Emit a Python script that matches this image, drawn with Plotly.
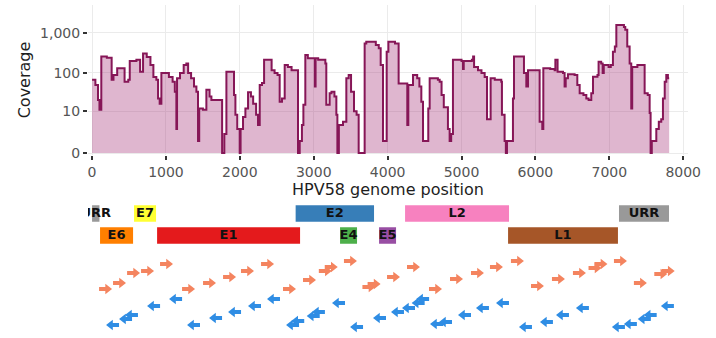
import numpy as np
import plotly.graph_objects as go

# ---------------- data ----------------
# coverage step profile along the HPV58 genome (position where a step starts, coverage)
cov_pos = [0, 45, 80, 100, 125, 200, 265, 290, 340, 440, 490, 510, 600, 650, 690, 740, 790, 830, 870,
           893, 915, 938, 990, 1040, 1090, 1120, 1141, 1150, 1190, 1240, 1276, 1300, 1340, 1380, 1412,
           1434, 1450, 1500, 1547, 1590, 1615, 1760, 1790, 1818, 1921, 1940, 1965, 1998, 2010, 2043,
           2075, 2111, 2150, 2180, 2220, 2246, 2269, 2300, 2328, 2430, 2470, 2510, 2539, 2570, 2607,
           2650, 2700, 2787, 2810, 2840, 2860, 2886, 2920, 3015, 3025, 3060, 3157, 3170, 3215, 3240,
           3280, 3306, 3320, 3340, 3396, 3441, 3473, 3505, 3545, 3580, 3608, 3689, 3711, 3840, 3880,
           3906, 3937, 3987, 4010, 4100, 4149, 4266, 4280, 4343, 4400, 4430, 4456, 4479, 4550, 4569,
           4680, 4704, 4730, 4760, 4816, 4839, 4860, 4884, 5000, 5020, 5030, 5140, 5157, 5170, 5223,
           5270, 5313, 5345, 5394, 5450, 5538, 5547, 5583, 5600, 5615, 5696, 5710, 5845, 5877, 5900,
           6035, 6057, 6093, 6107, 6200, 6260, 6270, 6300, 6373, 6395, 6410, 6440, 6530, 6567, 6599,
           6650, 6689, 6720, 6756, 6779, 6840, 6855, 6890, 6910, 6925, 6990, 7020, 7049, 7075, 7095,
           7198, 7216, 7243, 7275, 7297, 7310, 7380, 7455, 7478, 7520, 7546, 7559, 7575, 7636, 7670,
           7703, 7726, 7750, 7771, 7793, 7810]
cov_val = [67, 49, 20, 11, 256, 239, 67, 88, 131, 59, 67, 199, 213, 106, 308, 250, 157, 78, 67,
           22, 16, 99, 99, 78, 59, 33, 3, 73, 99, 157, 173, 99, 73, 45, 33,
           1, 12, 11, 37, 25, 20, 0, 2, 106, 27, 8, 3, 0, 3, 7,
           12, 32, 25, 16, 8, 4, 49, 55, 213, 116, 99, 88, 18, 22, 157,
           140, 116, 0, 1, 4, 15, 281, 233, 45, 233, 213, 173, 15, 30, 33,
           25, 8, 0, 4, 5, 73, 88, 33, 10, 8, 0, 549, 602, 500, 416,
           157, 1, 338, 602, 549, 54, 4, 49, 88, 73, 45, 18, 1, 12, 73,
           67, 59, 27, 13, 3, 1, 2, 213, 199, 125, 199, 213, 256, 140, 116,
           99, 78, 6, 73, 67, 59, 8, 1, 0, 1, 22, 256, 99, 45, 116,
           116, 5, 3, 131, 125, 116, 213, 106, 99, 45, 73, 92, 88, 49, 30,
           27, 22, 20, 30, 80, 88, 189, 173, 99, 157, 140, 157, 338, 456, 1584,
           1412, 1201, 456, 173, 12, 140, 157, 157, 30, 27, 9, 0, 1, 3, 5,
           6, 22, 59, 88, 73, 73]

# tick labels of the coverage axis
cov_ticks = [0, 10, 100, 1000]
cov_tick_text = ["0", "10", "100", "1,000"]
x_ticks = [0, 1000, 2000, 3000, 4000, 5000, 6000, 7000, 8000]

# genome annotation
gene_names = ["URR", "E7", "E2", "L2", "URR", "E6", "E1", "E4", "E5", "L1"]
gene_start = [0, 568, 2755, 4236, 7131, 108, 880, 3356, 3884, 5630]
gene_end = [100, 866, 3816, 5643, 7808, 555, 2815, 3586, 4114, 7117]
gene_row = [1, 1, 1, 1, 1, 2, 2, 2, 2, 2]
gene_colors = ["#999999", "#ffff33", "#377eb8", "#f781bf", "#999999",
               "#ff7f00", "#e41a1c", "#4daf4a", "#984ea3", "#a65628"]

# forward reads (centre position, stacking height in the read track)
fwd_pos = [176, 365, 555, 744, 1001, 1299, 1583, 1854, 2097, 2368, 2665, 2936, 3150, 3230, 3490,
           3740, 3810, 4073, 4343, 4641, 4925, 5209, 5466, 5750, 6021, 6305, 6589, 6800, 6880,
           7144, 7414, 7690, 7790]
fwd_lane = [49, 55, 65, 67, 74, 49, 55, 61, 67, 74, 49, 58, 67, 71, 77,
            51, 54, 61, 71, 49, 59, 65, 71, 77, 52, 59, 65, 70, 74,
            77, 55, 64, 67]
# reverse reads
rev_pos = [284, 460, 540, 839, 1137, 1380, 1678, 1935, 2205, 2462, 2720, 2790, 3000, 3070, 3342,
           3586, 3897, 4140, 4289, 4420, 4480, 4668, 4790, 5047, 5290, 5561, 5872, 6156, 6373,
           6643, 7130, 7292, 7480, 7560, 7793]
rev_lane = [13, 19, 23, 32, 39, 13, 20, 26, 32, 39, 13, 17, 22, 26, 35,
            11, 20, 26, 30, 35, 39, 14, 16, 23, 30, 35, 11, 16, 23,
            30, 11, 14, 19, 23, 32]

# ---------------- styling / layout constants ----------------
W, H = 716, 338
BP_PER_PX = 13.53
X_RANGE = [-55, 8065]
ROW_Y = {1: 124.5, 2: 102.5}
LINE_COL = "#861657"
FILL_COL = "rgba(172,62,128,0.38)"
FWD_COL = "#f4845f"
REV_COL = "#2f8de4"

fig = go.Figure()

# coverage (pseudo-log scale: log10(x + 1))
ylog = np.log10(np.array(cov_val, dtype=float) + 1)
fig.add_trace(go.Scatter(
    x=cov_pos, y=ylog, mode="lines", line=dict(shape="hv", color=LINE_COL, width=2),
    fill="tozeroy", fillcolor=FILL_COL, hoverinfo="skip", xaxis="x", yaxis="y"))

# genes as horizontal bars
for r in (1, 2):
    idx = [i for i, g in enumerate(gene_row) if g == r]
    fig.add_trace(go.Bar(
        orientation="h",
        base=[gene_start[i] for i in idx],
        x=[gene_end[i] - gene_start[i] for i in idx],
        y=[ROW_Y[r]] * len(idx),
        width=16.5,
        marker=dict(color=[gene_colors[i] for i in idx], line=dict(width=0)),
        xaxis="x2", yaxis="y2", hoverinfo="skip"))

fig.add_trace(go.Scatter(
    x=[(s + e) / 2 for s, e in zip(gene_start, gene_end)],
    y=[ROW_Y[r] for r in gene_row],
    mode="text", text=gene_names, cliponaxis=True,
    textfont=dict(family="DejaVu Sans", size=13, color="#111111", weight="bold"),
    xaxis="x2", yaxis="y2", hoverinfo="skip"))


def arrows(pos, lane, color, direction):
    back, front, head = 6.0 * BP_PER_PX, 1.0 * BP_PER_PX, 2.5 * BP_PER_PX
    sx, sy, hx = [], [], []
    for p, l in zip(pos, lane):
        if direction > 0:
            sx += [p - back, p + front, None]
            hx.append(p + head)
        else:
            sx += [p + back, p - front, None]
            hx.append(p - head)
        sy += [l, l, None]
    fig.add_trace(go.Scatter(x=sx, y=sy, mode="lines", line=dict(color=color, width=4),
                             xaxis="x2", yaxis="y2", hoverinfo="skip"))
    fig.add_trace(go.Scatter(x=hx, y=lane, mode="markers",
                             marker=dict(symbol="triangle-right" if direction > 0 else "triangle-left",
                                         size=9, color=color, line=dict(width=0)),
                             xaxis="x2", yaxis="y2", hoverinfo="skip"))


arrows(fwd_pos, fwd_lane, FWD_COL, 1)
arrows(rev_pos, rev_lane, REV_COL, -1)

top_lo, top_hi = (H - 155) / H, (H - 5) / H
fig.update_layout(
    width=W, height=H, margin=dict(l=88, r=28, t=0, b=0, autoexpand=False),
    paper_bgcolor="white", plot_bgcolor="white", showlegend=False, barmode="overlay",
    font=dict(family="DejaVu Sans", color="#4d4d4d"),
    xaxis=dict(domain=[0, 1], range=X_RANGE, anchor="y", tickvals=x_ticks, automargin=False,
               ticks="outside", ticklen=4, tickcolor="#333333", tickwidth=1.5,
               tickfont=dict(size=14, color="#555555"),
               showgrid=True, gridcolor="#ebebeb", gridwidth=1, zeroline=False, showline=False,
               title=dict(text="HPV58 genome position", font=dict(size=16, color="#1e1e1e"), standoff=1)),
    yaxis=dict(domain=[top_lo, top_hi], range=[-0.05, 3.7], automargin=False,
               tickvals=list(np.log10(np.array(cov_ticks) + 1)), ticktext=cov_tick_text,
               ticks="outside", ticklen=4, tickcolor="#333333", tickwidth=1.5,
               tickfont=dict(size=14, color="#555555"),
               showgrid=True, gridcolor="#ebebeb", gridwidth=1, zeroline=False, showline=False,
               title=dict(text="Coverage", font=dict(size=16, color="#1e1e1e"), standoff=5)),
    xaxis2=dict(domain=[0, 1], range=X_RANGE, anchor="y2", matches="x", visible=False),
    yaxis2=dict(domain=[0, (H - 196) / H], range=[0, 142], visible=False),
)

fig.write_html("out.html")
